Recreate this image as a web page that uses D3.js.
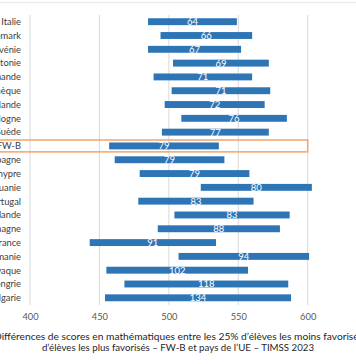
<!DOCTYPE html>
<html><head><meta charset="utf-8">
<script src="https://cdn.jsdelivr.net/npm/d3@7"></script>
<style>
body{margin:0;background:#fff;overflow:hidden;}
svg{display:block;font-family:Lato,"Open Sans",sans-serif;}
</style>
</head><body>
<svg id="c" width="356" height="364"></svg>
<script>
const categories = ["Italie","Danemark","Slovénie","Estonie","Communauté flamande","République tchèque","Irlande","Pologne","Suède","FW-B","Espagne","Chypre","Lituanie","Portugal","Finlande","Allemagne","France","Roumanie","République slovaque","Hongrie","Bulgarie"];
const lows  = [485,494,485,503,489,502,497,509,495,457,461,479,523,478,504,492,443,507,455,468,454];
const diffs = [64,66,67,69,71,71,72,76,77,79,79,79,80,83,83,88,91,94,102,118,134];
const xTicks = [400,450,500,550,600];
const highlighted = "FW-B";
const titleLines = ["Différences de scores en mathématiques entre les 25% d’élèves les moins favorisés et les 25%",
                    "d’élèves les plus favorisés – FW-B et pays de l’UE – TIMSS 2023"];

const data = categories.map((c,i)=>({c, lo:lows[i], hi:lows[i]+diffs[i], d:diffs[i]}));

const svg = d3.select("#c");
const x = d3.scaleLinear().domain([400,600]).range([30,307.7]);
const y = d3.scaleBand().domain(categories).range([14.8,304.7]).paddingInner(0.5).paddingOuter(0.25);

// top frame line
svg.append("line").attr("x1",0).attr("x2",356).attr("y1",2.5).attr("y2",2.5)
  .attr("stroke","#ececec").attr("stroke-width",1.5);

// gridlines
svg.append("g").selectAll("line").data(xTicks).join("line")
  .attr("x1",d=>x(d)).attr("x2",d=>x(d)).attr("y1",15).attr("y2",305)
  .attr("stroke","#d9d9d9").attr("stroke-width",1);

// highlight box
const hb = y(highlighted), step = y.step();
svg.append("rect")
  .attr("x",-5).attr("y",hb + y.bandwidth()/2 - step*0.43)
  .attr("width",x(600)+5).attr("height",step*0.86)
  .attr("fill","none").attr("stroke","#F4A46C").attr("stroke-width",1.5);

// bars
svg.append("g").selectAll("rect").data(data).join("rect")
  .attr("x",d=>x(d.lo)).attr("y",d=>y(d.c))
  .attr("width",d=>x(d.hi)-x(d.lo)).attr("height",y.bandwidth())
  .attr("fill","#2E75B6");

// value labels
svg.append("g").selectAll("text").data(data).join("text")
  .attr("x",d=>(x(d.lo)+x(d.hi))/2).attr("y",d=>y(d.c)+y.bandwidth()/2)
  .attr("dy","0.36em").attr("text-anchor","middle")
  .attr("fill","#fff").attr("font-size",9.5).text(d=>d.d);

// category labels
svg.append("g").selectAll("text").data(data).join("text")
  .attr("x",21).attr("y",d=>y(d.c)+y.bandwidth()/2)
  .attr("dy","0.36em").attr("text-anchor","end")
  .attr("fill","#404040").attr("font-size",9.3).text(d=>d.c);

// x axis
const ax = svg.append("g").attr("transform","translate(0,305)")
  .call(d3.axisBottom(x).tickValues(xTicks).tickSize(0).tickPadding(8));
ax.select(".domain").remove();
ax.selectAll("text").attr("fill","#595959").attr("font-size",9.3).attr("font-family","Lato,'Open Sans',sans-serif");

// title
svg.append("text").attr("x",-6).attr("y",340).attr("text-anchor","start")
  .attr("fill","#262626").attr("font-size",10.2).text(titleLines[0]);
svg.append("text").attr("x",178).attr("y",350.5).attr("text-anchor","middle")
  .attr("fill","#262626").attr("font-size",9.7).text(titleLines[1]);
</script>
</body></html>
